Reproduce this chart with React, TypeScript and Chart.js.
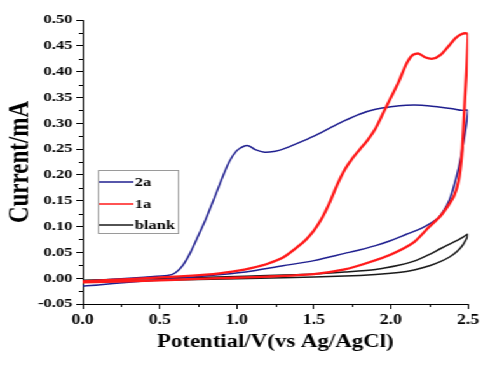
import React, { useEffect, useRef } from "react";
import { Chart, registerables } from "chart.js";

Chart.register(...registerables);

// ---- axis ticks ----
const xMajorTicks = [0, 0.5, 1.0, 1.5, 2.0, 2.5];
const xMinorTicks = [0.25, 0.75, 1.25, 1.75, 2.25];
const yMajorTicks = [-0.05, 0.0, 0.05, 0.1, 0.15, 0.2, 0.25, 0.3, 0.35, 0.4, 0.45, 0.5];
const yMinorTicks = [-0.025, 0.025, 0.075, 0.125, 0.175, 0.225, 0.275, 0.325, 0.375, 0.425, 0.475];

// ---- series labels ----
const seriesLabels = ["2a", "1a", "blank"];

// ---- 2a (blue) : anodic sweep ----
const blueFwdV = [0, 0.2, 0.4, 0.55, 0.6, 0.65, 0.7, 0.75, 0.8, 0.85, 0.9, 0.95, 1.0, 1.05, 1.08, 1.12, 1.18, 1.25, 1.3, 1.4, 1.5, 1.6, 1.7, 1.8, 1.9, 2.0, 2.1, 2.2, 2.3, 2.4, 2.46, 2.5];
const blueFwdI = [-0.006, -0.002, 0.002, 0.005, 0.01, 0.025, 0.05, 0.082, 0.115, 0.152, 0.19, 0.225, 0.247, 0.256, 0.256, 0.249, 0.244, 0.246, 0.25, 0.262, 0.275, 0.29, 0.305, 0.318, 0.327, 0.332, 0.335, 0.335, 0.332, 0.328, 0.325, 0.325];
// ---- 2a (blue) : cathodic sweep ----
const blueRevV = [2.49, 2.48, 2.46, 2.44, 2.41, 2.38, 2.34, 2.3, 2.2, 2.1, 2.0, 1.9, 1.8, 1.7, 1.5, 1.3, 1.1, 0.9, 0.7, 0.5, 0.3, 0.1, 0];
const blueRevI = [0.3, 0.28, 0.245, 0.215, 0.18, 0.152, 0.13, 0.115, 0.097, 0.085, 0.073, 0.063, 0.055, 0.048, 0.034, 0.024, 0.014, 0.007, 0.002, -0.003, -0.008, -0.013, -0.015];

// ---- 1a (red) : anodic sweep ----
const redFwdV = [0, 0.3, 0.6, 0.8, 0.9, 1.0, 1.1, 1.2, 1.3, 1.4, 1.45, 1.5, 1.55, 1.6, 1.65, 1.7, 1.75, 1.8, 1.85, 1.9, 1.95, 2.0, 2.05, 2.1, 2.14, 2.18, 2.22, 2.27, 2.32, 2.37, 2.42, 2.46, 2.49, 2.5];
const redFwdI = [-0.006, -0.002, 0.003, 0.007, 0.01, 0.014, 0.02, 0.028, 0.04, 0.062, 0.075, 0.092, 0.115, 0.145, 0.18, 0.21, 0.232, 0.25, 0.268, 0.29, 0.32, 0.35, 0.38, 0.415, 0.432, 0.435, 0.428, 0.425, 0.432, 0.448, 0.465, 0.473, 0.474, 0.47];
// ---- 1a (red) : cathodic sweep ----
const redRevV = [2.495, 2.49, 2.48, 2.47, 2.46, 2.44, 2.41, 2.37, 2.32, 2.25, 2.15, 2.0, 1.85, 1.7, 1.5, 1.2, 0.9, 0.6, 0.3, 0];
const redRevI = [0.43, 0.4, 0.35, 0.29, 0.24, 0.19, 0.16, 0.14, 0.12, 0.1, 0.07, 0.046, 0.03, 0.017, 0.008, 0.003, 0.0, -0.003, -0.006, -0.008];

// ---- blank (black) : anodic sweep ----
const blackFwdV = [0, 0.5, 1.0, 1.3, 1.7, 1.9, 2.05, 2.15, 2.25, 2.32, 2.38, 2.43, 2.47, 2.5];
const blackFwdI = [-0.008, -0.004, -0.001, 0.001, 0.004, 0.007, 0.011, 0.016, 0.024, 0.032, 0.041, 0.052, 0.066, 0.085];
// ---- blank (black) : cathodic sweep ----
const blackRevV = [2.47, 2.43, 2.38, 2.32, 2.25, 2.15, 2.05, 1.9, 1.7, 1.5, 1.2, 0.8, 0.4, 0];
const blackRevI = [0.08, 0.073, 0.066, 0.057, 0.046, 0.033, 0.025, 0.017, 0.012, 0.008, 0.005, 0.002, -0.001, -0.004];

const seriesColors = ["#1f1f8f", "#ff1a1a", "#1a1a1a"];

const FONT = "'Liberation Serif', 'Times New Roman', serif";

function toPoints(v: number[], i: number[]) {
  return v.map((x, k) => ({ x, y: i[k] }));
}

const minorTickPlugin = {
  id: "minorTicks",
  afterDraw(chart: any) {
    const { ctx, chartArea, scales } = chart;
    ctx.save();
    ctx.strokeStyle = "#000";
    ctx.lineWidth = 1;
    ctx.beginPath();
    xMinorTicks.forEach((v) => {
      const px = Math.round(scales.x.getPixelForValue(v)) + 0.5;
      ctx.moveTo(px, chartArea.bottom);
      ctx.lineTo(px, chartArea.bottom + 3);
    });
    yMinorTicks.forEach((v) => {
      const py = Math.round(scales.y.getPixelForValue(v)) + 0.5;
      ctx.moveTo(chartArea.left - 3, py);
      ctx.lineTo(chartArea.left, py);
    });
    ctx.stroke();
    ctx.restore();
  },
};

const boxLegendPlugin = {
  id: "boxLegend",
  afterDraw(chart: any) {
    const { ctx } = chart;
    const left = 77;
    const top = 170;
    const right = 140;
    const bottom = 233;
    const rows = [182, 204, 225];
    ctx.save();
    ctx.strokeStyle = "#9a9a9a";
    ctx.lineWidth = 1;
    ctx.strokeRect(left + 0.5, top + 0.5, right - left, bottom - top);
    chart.data.datasets.forEach((ds: any, i: number) => {
      ctx.strokeStyle = ds.borderColor;
      ctx.lineWidth = 1.5;
      ctx.beginPath();
      ctx.moveTo(left + 1, rows[i]);
      ctx.lineTo(105, rows[i]);
      ctx.stroke();
      ctx.fillStyle = "#000";
      ctx.font = `bold 13px ${FONT}`;
      ctx.textBaseline = "middle";
      ctx.textAlign = "left";
      ctx.fillText(ds.label, 106, rows[i] + 0.5);
    });
    ctx.restore();
  },
};

export default function App() {
  const canvasRef = useRef<HTMLCanvasElement | null>(null);

  useEffect(() => {
    const canvas = canvasRef.current;
    if (!canvas) return;
    const chart = new Chart(canvas, {
      type: "scatter",
      data: {
        datasets: [
          {
            label: seriesLabels[0],
            data: toPoints(blueFwdV.concat(blueRevV), blueFwdI.concat(blueRevI)),
            borderColor: seriesColors[0],
            backgroundColor: seriesColors[0],
            borderWidth: 1.5,
            showLine: true,
            pointRadius: 0,
            tension: 0.25,
            order: 1,
          },
          {
            label: seriesLabels[1],
            data: toPoints(redFwdV.concat(redRevV), redFwdI.concat(redRevI)),
            borderColor: seriesColors[1],
            backgroundColor: seriesColors[1],
            borderWidth: 2.3,
            showLine: true,
            pointRadius: 0,
            tension: 0.25,
            order: 0,
          },
          {
            label: seriesLabels[2],
            data: toPoints(blackFwdV.concat(blackRevV), blackFwdI.concat(blackRevI)),
            borderColor: seriesColors[2],
            backgroundColor: seriesColors[2],
            borderWidth: 1.5,
            showLine: true,
            pointRadius: 0,
            tension: 0.25,
            order: 2,
          },
        ],
      },
      options: {
        responsive: false,
        animation: false,
        devicePixelRatio: 1,
        layout: { padding: { left: 0, top: 20, right: 10, bottom: 0 } },
        plugins: {
          legend: { display: false },
          tooltip: { enabled: false },
        },
        scales: {
          x: {
            type: "linear",
            min: 0,
            max: 2.5,
            afterFit(scale: any) {
              scale.height = 61;
            },
            afterBuildTicks(scale: any) {
              scale.ticks = xMajorTicks.map((value) => ({ value }));
            },
            grid: { display: true, drawOnChartArea: false, drawTicks: true, tickLength: 5, color: "#000" },
            border: { display: true, color: "#000", width: 1 },
            ticks: {
              color: "#000",
              padding: 3,
              font: { family: FONT, size: 14, weight: "bold" },
              callback: (v: any) => Number(v).toFixed(1),
              maxRotation: 0,
            },
            title: {
              display: true,
              text: "Potential/V(vs Ag/AgCl)",
              color: "#000",
              font: { family: FONT, size: 18, weight: "bold" },
              padding: { top: 0, bottom: 12 },
            },
          },
          y: {
            type: "linear",
            min: -0.05,
            max: 0.5,
            afterFit(scale: any) {
              scale.width = 65;
            },
            afterBuildTicks(scale: any) {
              scale.ticks = yMajorTicks.map((value) => ({ value }));
            },
            grid: { display: true, drawOnChartArea: false, drawTicks: true, tickLength: 5, color: "#000" },
            border: { display: true, color: "#000", width: 1 },
            ticks: {
              color: "#000",
              padding: 3,
              font: { family: FONT, size: 13, weight: "bold" },
              callback: (v: any) => Number(v).toFixed(2),
            },
            title: {
              display: true,
              text: "Current/mA",
              color: "#000",
              font: { family: FONT, size: 23, weight: "bold" },
              padding: { top: 2, bottom: 0 },
            },
          },
        },
      },
      plugins: [minorTickPlugin, boxLegendPlugin],
    } as any);
    return () => chart.destroy();
  }, []);

  return (
    <div
      style={{
        position: "absolute",
        left: 0,
        top: 0,
        width: 380,
        height: 365,
        transform: "scaleX(1.271)",
        transformOrigin: "0 0",
        background: "#fff",
      }}
    >
      <canvas ref={canvasRef} width={380} height={365} />
    </div>
  );
}
